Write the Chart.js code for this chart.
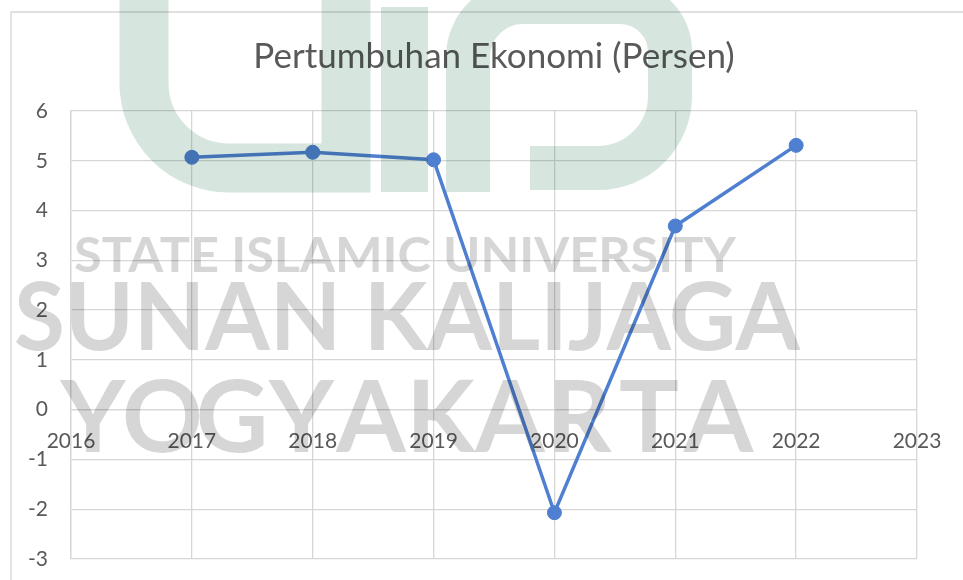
<!DOCTYPE html>
<html>
<head>
<meta charset="utf-8">
<script src="https://cdn.jsdelivr.net/npm/chart.js@4.4.0/dist/chart.umd.min.js"></script>
<style>
  html, body { margin: 0; padding: 0; background: #ffffff; }
  #wrap { width: 963px; height: 580px; }
</style>
</head>
<body>
<div id="wrap"><canvas id="c" width="963" height="580"></canvas></div>
<script>
// ---- data ----
const years = [2017, 2018, 2019, 2020, 2021, 2022];
const growth = [5.07, 5.17, 5.02, -2.07, 3.69, 5.31];
const xMin = 2016, xMax = 2023;
const yMin = -3, yMax = 6;
const titleText = 'Pertumbuhan Ekonomi (Persen)';
const watermarkLines = ['STATE ISLAMIC UNIVERSITY', 'SUNAN KALIJAGA'];
const watermarkCity = ['Y', 'O', 'G', 'Y', 'A', 'K', 'A', 'R', 'T', 'A'];

const FONT = 'Lato, "Open Sans", sans-serif';
const TEXT = '#595959';
const GRID = '#d6d6d6';
const LINE = '#4f7fd0';

const points = years.map((y, i) => ({ x: y, y: growth[i] }));

const frame = {
  id: 'frame',
  beforeDraw(chart) {
    const ctx = chart.ctx;
    ctx.save();
    ctx.fillStyle = '#ffffff';
    ctx.fillRect(0, 0, chart.width, chart.height);
    ctx.strokeStyle = GRID;
    ctx.lineWidth = 1.3;
    ctx.beginPath();
    ctx.moveTo(11, chart.height + 2);
    ctx.lineTo(11, 12);
    ctx.lineTo(chart.width + 2, 12);
    ctx.stroke();
    ctx.restore();
  }
};

function fitText(ctx, text, x0, x1, base, size, weight) {
  ctx.font = weight + ' ' + size + 'px ' + FONT;
  const w = ctx.measureText(text).width;
  ctx.save();
  ctx.translate(x0, base);
  ctx.scale((x1 - x0) / w, 1);
  ctx.fillText(text, 0, 0);
  ctx.restore();
}

const watermark = {
  id: 'watermark',
  afterDraw(chart) {
    const ctx = chart.ctx;
    ctx.save();
    ctx.globalCompositeOperation = 'multiply';
    // green logo
    ctx.strokeStyle = 'rgb(214,230,222)';
    ctx.fillStyle = 'rgb(214,230,222)';
    ctx.lineJoin = 'miter';
    ctx.lineCap = 'butt';
    // U
    ctx.lineWidth = 49;
    ctx.beginPath();
    ctx.moveTo(144, -20);
    ctx.lineTo(144, 90);
    ctx.arcTo(144, 168, 240, 168, 85);
    ctx.lineTo(346, 168);
    ctx.lineTo(346, -20);
    ctx.stroke();
    // i
    ctx.fillRect(381, 7, 47, 185);
    // n hook
    ctx.lineWidth = 44;
    ctx.beginPath();
    ctx.moveTo(468, 192);
    ctx.lineTo(468, 60);
    ctx.arcTo(468, 2, 540, 2, 55);
    ctx.lineTo(620, 2);
    ctx.arcTo(670, 2, 670, 60, 50);
    ctx.lineTo(670, 95);
    ctx.arcTo(670, 168, 590, 168, 72);
    ctx.lineTo(530, 168);
    ctx.stroke();
    // gray text
    ctx.fillStyle = 'rgb(214,214,214)';
    ctx.textBaseline = 'alphabetic';
    fitText(ctx, watermarkLines[0], 74, 736, 272, 47, 'bold');
    fitText(ctx, watermarkLines[1], 14, 800, 350, 93, 'bold');
    ctx.font = 'bold 100px ' + FONT;
    ctx.textAlign = 'center';
    watermarkCity.forEach((ch, i) => {
      ctx.fillText(ch, 93 + i * 69.5, 452);
    });
    ctx.restore();
  }
};

new Chart(document.getElementById('c'), {
  type: 'scatter',
  data: {
    datasets: [{
      data: points,
      showLine: true,
      borderColor: LINE,
      backgroundColor: LINE,
      borderWidth: 3.5,
      pointRadius: 7,
      pointBorderWidth: 1,
      pointBorderColor: LINE,
      pointBackgroundColor: LINE,
      tension: 0
    }]
  },
  options: {
    responsive: false,
    animation: false,
    events: [],
    layout: { padding: { left: 11, top: 12, right: 46, bottom: 21 } },
    plugins: {
      legend: { display: false },
      tooltip: { enabled: false },
      title: {
        display: true,
        fullSize: false,
        text: titleText,
        color: TEXT,
        font: { family: FONT, size: 35, weight: 'normal' },
        padding: { top: 24, bottom: 33 }
      }
    },
    scales: {
      x: {
        type: 'linear',
        position: { y: 0 },
        min: xMin, max: xMax,
        afterFit(s) { s.height = 0; },
        ticks: {
          stepSize: 1,
          color: TEXT,
          padding: 19,
          font: { family: FONT, size: 21 },
          callback: v => String(v)
        },
        grid: { color: GRID, lineWidth: 1.3, drawTicks: false },
        border: { color: GRID, width: 1.3 }
      },
      y: {
        type: 'linear',
        min: yMin, max: yMax,
        afterFit(s) { s.width = 60; s.paddingTop = 0; s.paddingBottom = 0; },
        ticks: {
          stepSize: 1,
          color: TEXT,
          padding: 23,
          font: { family: FONT, size: 21 }
        },
        grid: { color: GRID, lineWidth: 1.3, drawTicks: false },
        border: { color: GRID, width: 1.3 }
      }
    }
  },
  plugins: [frame, watermark]
});
</script>
</body>
</html>
